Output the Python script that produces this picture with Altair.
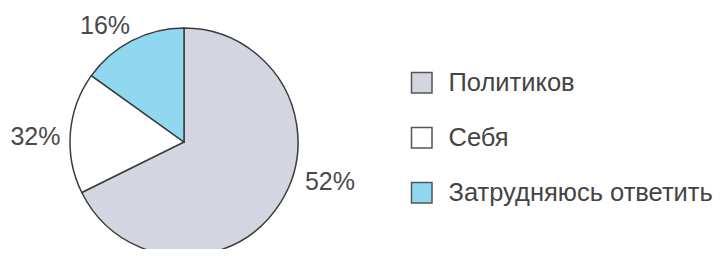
import altair as alt
import pandas as pd

categories = ["Политиков", "Себя", "Затрудняюсь ответить"]
labels = ["52%", "32%", "16%"]
# slice sizes as drawn in the picture (angles)
drawn = [67.7, 17.2, 15.1]
colors = ["#d3d5e0", "#ffffff", "#8fd8f0"]
order = [0, 1, 2]

df = pd.DataFrame({"category": categories, "label": labels, "drawn": drawn, "order": order})

cx, cy, R = 176, 134, 114

base = alt.Chart(df).encode(
    theta=alt.Theta("drawn:Q", stack=True),
    order=alt.Order("order:Q"),
    x=alt.value(cx),
    y=alt.value(cy),
)

pie = base.mark_arc(radius=R, stroke="#3c3c3c", strokeWidth=1.5).encode(
    color=alt.Color(
        "category:N",
        scale=alt.Scale(domain=categories, range=colors),
        sort=categories,
        legend=alt.Legend(
            title=None,
            orient="none",
            legendX=401,
            legendY=62,
            symbolType="square",
            symbolSize=420,
            symbolStrokeColor="#555555",
            symbolStrokeWidth=1.5,
            labelFontSize=25.5,
            labelFont="Liberation Sans",
            labelColor="#444444",
            labelOffset=14,
            rowPadding=27,
            padding=0,
            labelLimit=400,
        ),
    )
)

txt_common = dict(radius=140, fontSize=25, font="Liberation Sans", color="#4a4a4a")

layers = [pie]
for cat, ddx, ddy in [("Политиков", 27, -34), ("Себя", -9, 6), ("Затрудняюсь ответить", -15, 9)]:
    layers.append(
        base.mark_text(dx=ddx, dy=ddy, **txt_common).encode(
            text=alt.condition(alt.datum.category == cat, "label:N", alt.value(""))
        )
    )

chart = (
    alt.layer(*layers)
    .properties(
        width=709,
        height=241,
        padding=0,
        background="#ffffff",
        autosize=alt.AutoSizeParams(type="none"),
    )
    .configure_view(stroke=None)
)

chart.save("out.html", embed_options={"renderer": "svg", "actions": False})
